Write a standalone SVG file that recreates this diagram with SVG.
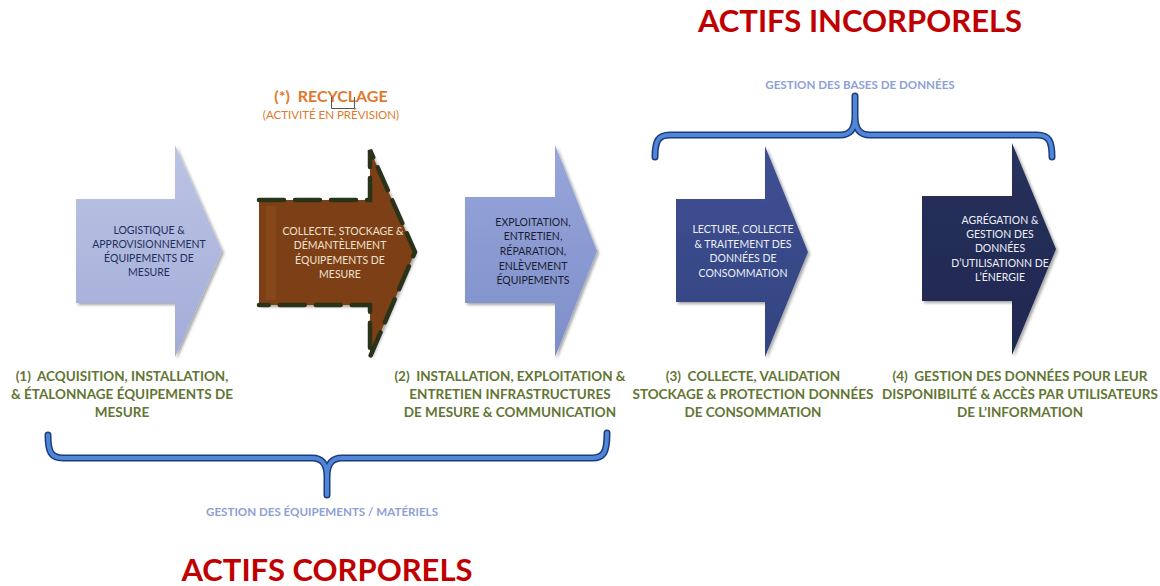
<svg xmlns="http://www.w3.org/2000/svg" width="1160" height="586" viewBox="0 0 1160 586">
  <defs>
    <linearGradient id="gLight" x1="0" y1="0" x2="0" y2="1">
      <stop offset="0" stop-color="#bcc4e4"/>
      <stop offset="1" stop-color="#a3acd8"/>
    </linearGradient>
    <linearGradient id="gMid" x1="0" y1="0" x2="0" y2="1">
      <stop offset="0" stop-color="#97a6da"/>
      <stop offset="1" stop-color="#7e8ec9"/>
    </linearGradient>
    <linearGradient id="gDark" x1="0" y1="0" x2="0" y2="1">
      <stop offset="0" stop-color="#3f5094"/>
      <stop offset="1" stop-color="#33437f"/>
    </linearGradient>
    <linearGradient id="gNavy" x1="0" y1="0" x2="0" y2="1">
      <stop offset="0" stop-color="#27315c"/>
      <stop offset="1" stop-color="#1f2850"/>
    </linearGradient>
    <filter id="shadow" x="-10%" y="-10%" width="130%" height="130%">
      <feDropShadow dx="2" dy="2" stdDeviation="1.5" flood-color="#000" flood-opacity="0.35"/>
    </filter>
  </defs>
  <style>
    .title { font-family: Lato, "Open Sans", sans-serif; font-weight: 700; font-size: 31px; fill: #c00000; text-anchor: middle; }
    .group { font-family: Lato, "Open Sans", sans-serif; font-weight: 700; font-size: 11.6px; fill: #8ea0d5; text-anchor: middle; }
    .phase { font-family: Lato, "Open Sans", sans-serif; font-weight: 700; font-size: 13.5px; fill: #627533; text-anchor: middle; }
    .node { font-family: Lato, "Open Sans", sans-serif; font-size: 10.5px; text-anchor: middle; }
    .dark { fill: #1f2f5e; }
    .light { fill: #eef0f8; }
    .brace-under { fill: none; stroke: #1d3c7c; stroke-width: 7; stroke-linecap: round; }
    .brace { fill: none; stroke: #4f86d8; stroke-width: 4; stroke-linecap: round; }
  </style>

  <rect width="1160" height="586" fill="#ffffff"/>

  <!-- headings -->
  <text class="title" x="860" y="32">ACTIFS INCORPORELS</text>
  <text class="title" x="327" y="581">ACTIFS CORPORELS</text>
  <text class="group" x="860" y="89">GESTION DES BASES DE DONNÉES</text>
  <text class="group" x="322" y="516">GESTION DES ÉQUIPEMENTS / MATÉRIELS</text>

  <!-- recycling note -->
  <g id="recyclage-note">
    <text x="331" y="102" font-family="Lato, 'Open Sans', sans-serif" font-weight="700" font-size="16" fill="#e0792e" text-anchor="middle" xml:space="preserve">(*)  RECYCLAGE</text>
    <text x="331" y="119" font-family="Lato, 'Open Sans', sans-serif" font-size="11.5" fill="#e0792e" text-anchor="middle">(ACTIVITÉ EN PRÉVISION)</text>
    <path d="M331.5,97 V108.5 H354.5 V97" fill="none" stroke="#555" stroke-width="1"/>
  </g>

  <!-- braces -->
  <g id="connectors">
    <path class="brace-under" d="M655,157 C655,141 658,135 670,135 L840,135 C851,135 855,128 855,116 L855,96 M855,116 C855,128 859,135 870,135 L1037,135 C1049,135 1052,141 1052,157"/>
    <path class="brace" d="M655,157 C655,141 658,135 670,135 L840,135 C851,135 855,128 855,116 L855,96 M855,116 C855,128 859,135 870,135 L1037,135 C1049,135 1052,141 1052,157"/>
    <path class="brace-under" d="M48,435 C48,452 51,458 63,458 L312,458 C323,458 327,465 327,477 L327,495 M327,477 C327,465 331,458 342,458 L592,458 C604,458 607,452 607,433"/>
    <path class="brace" d="M48,435 C48,452 51,458 63,458 L312,458 C323,458 327,465 327,477 L327,495 M327,477 C327,465 331,458 342,458 L592,458 C604,458 607,452 607,433"/>
  </g>

  <!-- step 1 -->
  <g id="n1">
    <path d="M76,199 H175 V145 L222,251 L175,357 V303 H76 Z" fill="url(#gLight)" filter="url(#shadow)"/>
    <text class="node dark" x="149"><tspan x="149" y="234">LOGISTIQUE &amp;</tspan><tspan x="149" y="248">APPROVISIONNEMENT</tspan><tspan x="149" y="262">ÉQUIPEMENTS DE</tspan><tspan x="149" y="276">MESURE</tspan></text>
  </g>

  <!-- recycling (planned) -->
  <g id="n-recycling">
    <path d="M259,200 H370 V150 L415,252 L370,357 V305 H259 Z" fill="#7d3f12" filter="url(#shadow)"/>
    <rect x="266" y="206" width="10" height="94" fill="#8a4a1c" opacity="0.7"/>
    <path d="M259,200 H370 V150 L415,252 L370,357 V305 H259" fill="none" stroke="#2a331a" stroke-width="4.5" stroke-dasharray="25,11" stroke-linecap="round"/>
    <text class="node" fill="#f3e1d0" x="343"><tspan x="343" y="235">COLLECTE, STOCKAGE  &amp;</tspan><tspan x="340" y="249">DÉMANTÈLEMENT</tspan><tspan x="340" y="264">ÉQUIPEMENTS DE</tspan><tspan x="340" y="278">MESURE</tspan></text>
  </g>

  <!-- step 2 -->
  <g id="n2">
    <path d="M465,197 H555 V145 L597,251 L555,357 V303 H465 Z" fill="url(#gMid)" filter="url(#shadow)"/>
    <text class="node" fill="#1a1d33" x="533"><tspan x="533" y="226">EXPLOITATION,</tspan><tspan x="533" y="240">ENTRETIEN,</tspan><tspan x="533" y="255">RÉPARATION,</tspan><tspan x="533" y="270">ENLÈVEMENT</tspan><tspan x="533" y="284">ÉQUIPEMENTS</tspan></text>
  </g>

  <!-- step 3 -->
  <g id="n3">
    <path d="M676,199 H765 V146 L808,252 L765,357 V302 H676 Z" fill="url(#gDark)" filter="url(#shadow)"/>
    <text class="node light" x="743"><tspan x="743" y="233">LECTURE, COLLECTE</tspan><tspan x="743" y="248">&amp; TRAITEMENT DES</tspan><tspan x="743" y="262">DONNÉES DE</tspan><tspan x="743" y="277">CONSOMMATION</tspan></text>
  </g>

  <!-- step 4 -->
  <g id="n4">
    <path d="M922,196 H1012 V143 L1056,249 L1012,355 V301 H922 Z" fill="url(#gNavy)" filter="url(#shadow)"/>
    <text class="node light" x="1000"><tspan x="1000" y="224">AGRÉGATION &amp;</tspan><tspan x="1000" y="238">GESTION DES</tspan><tspan x="1000" y="252">DONNÉES</tspan><tspan x="1000" y="267">D’UTILISATIONN DE</tspan><tspan x="1000" y="281">L’ÉNERGIE</tspan></text>
  </g>

  <!-- phase labels -->
  <g id="phase1">
    <text class="phase" xml:space="preserve"><tspan x="122" y="381">(1)  ACQUISITION, INSTALLATION,</tspan><tspan x="122" y="399">&amp; ÉTALONNAGE ÉQUIPEMENTS DE</tspan><tspan x="122" y="417">MESURE</tspan></text>
  </g>
  <g id="phase2">
    <text class="phase" xml:space="preserve"><tspan x="510" y="381">(2)  INSTALLATION, EXPLOITATION &amp;</tspan><tspan x="510" y="399">ENTRETIEN INFRASTRUCTURES</tspan><tspan x="510" y="417">DE MESURE &amp; COMMUNICATION</tspan></text>
  </g>
  <g id="phase3">
    <text class="phase" xml:space="preserve"><tspan x="753" y="381">(3)  COLLECTE, VALIDATION</tspan><tspan x="753" y="399">STOCKAGE &amp; PROTECTION DONNÉES</tspan><tspan x="753" y="417">DE CONSOMMATION</tspan></text>
  </g>
  <g id="phase4">
    <text class="phase" xml:space="preserve"><tspan x="1020" y="381">(4)  GESTION DES DONNÉES POUR LEUR</tspan><tspan x="1020" y="399">DISPONIBILITÉ &amp; ACCÈS PAR UTILISATEURS</tspan><tspan x="1020" y="417">DE L’INFORMATION</tspan></text>
  </g>
</svg>
